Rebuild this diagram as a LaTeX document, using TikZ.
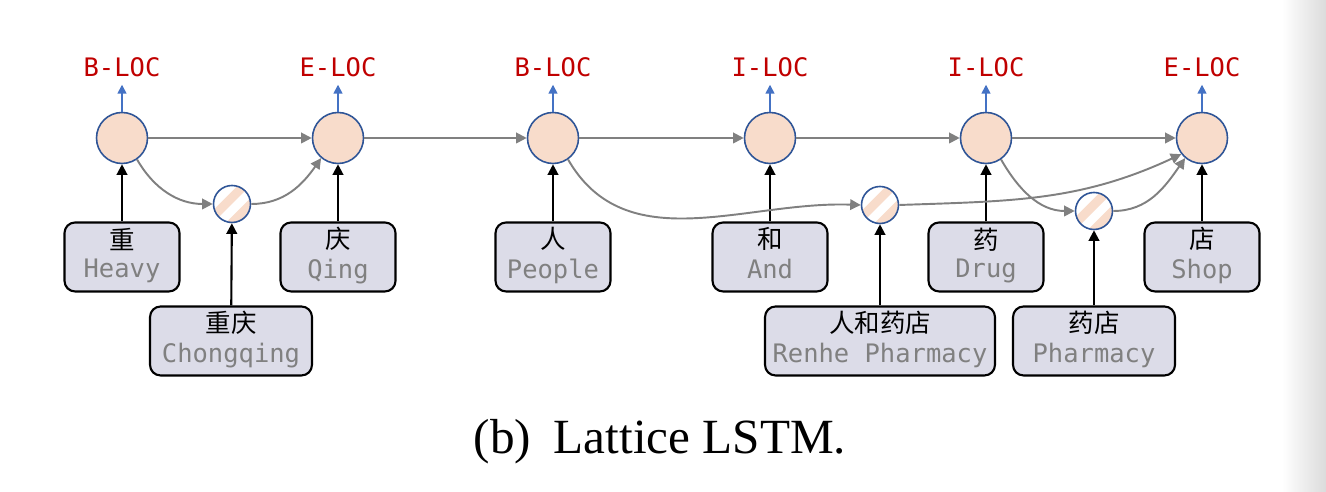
\documentclass[tikz,border=0pt]{standalone}
\usepackage{fontspec}
\setmainfont{Liberation Serif}
\newfontfamily\cjk{Noto Sans CJK SC}
\newfontfamily\mono{DejaVu Sans Mono}
\usetikzlibrary{arrows.meta}

\definecolor{cellfill}{HTML}{F8DCCB}
\definecolor{celledge}{HTML}{2F5597}
\definecolor{emitblue}{HTML}{4472C4}
\definecolor{tagred}{HTML}{C00000}
\definecolor{boxfill}{HTML}{DCDCE8}
\definecolor{txtgray}{HTML}{808080}
\definecolor{flowgray}{HTML}{808080}

\newcommand\wl[2]{{\cjk\strut #1}\\{\mono\color{txtgray}\strut #2}}

\tikzset{
	cell/.style={circle,draw=celledge,fill=cellfill,line width=0.9pt,minimum size=1.02cm,inner sep=0pt},
	wcell/.style={circle,draw=celledge,fill=white,line width=0.9pt,minimum size=0.74cm,inner sep=0pt,
		path picture={
			\foreach \p in {-0.27,0.09,0.45}
				\draw[cellfill,line width=0.18cm]
					([xshift={(-0.45-0.707*\p)*1cm},yshift={(-0.45+0.707*\p)*1cm}]path picture bounding box.center) --
					([xshift={(0.45-0.707*\p)*1cm},yshift={(0.45+0.707*\p)*1cm}]path picture bounding box.center);
		}},
	word/.style={draw,fill=boxfill,rounded corners=6pt,line width=1.2pt,minimum width=2.3cm,minimum height=1.38cm,
		align=center,inner sep=2pt,font=\fontsize{14.5}{15.5}\selectfont},
	tag/.style={text=tagred,font=\mono\fontsize{14.5}{17}\selectfont,anchor=base,inner sep=4pt},
	flow/.style={draw=flowgray,line width=1.1pt,-{Triangle[length=6pt,width=6pt]}},
	feed/.style={draw=black,line width=1.2pt,-{Triangle[length=6pt,width=6pt]}},
	emit/.style={draw=emitblue,line width=0.9pt,-{Triangle[length=5pt,width=5pt]}}
}

\begin{document}
\begin{tikzpicture}[x=0.02cm,y=0.02cm]
	\useasboundingbox (0,0) rectangle (1326,492);
	\shade[left color=white,right color=black!14] (1282,0) rectangle (1326,492);

	% characters, cells and tags
	\foreach \i/\x/\t/\zh/\en in {1/122/B-LOC/重/Heavy,2/338/E-LOC/庆/Qing,3/553/B-LOC/人/People,
			4/770/I-LOC/和/And,5/986/I-LOC/药/Drug,6/1202/E-LOC/店/Shop} {
		\node[cell] (c\i) at (\x,354) {};
		\node[tag] (t\i) at (\x,415) {\t};
		\node[word] (w\i) at (\x,235) {\wl{\zh}{\en}};
		\draw[emit] (c\i) -- (t\i);
		\draw[feed] (w\i) -- (c\i);
	}
	\foreach \i/\j in {1/2,2/3,3/4,4/5,5/6}
		\draw[flow] (c\i) -- (c\j);

	% lexicon words
	\node[wcell] (s1) at (232,288) {};
	\node[wcell] (s2) at (880,287) {};
	\node[wcell] (s3) at (1094,281) {};
	\node[word,minimum width=3.24cm] (v1) at (231,151) {\wl{重庆}{Chongqing}};
	\node[word,minimum width=4.6cm] (v2) at (880,151) {\wl{人和药店}{Renhe Pharmacy}};
	\node[word,minimum width=3.24cm] (v3) at (1094,151) {\wl{药店}{Pharmacy}};
	\draw[feed] (v1) -- (s1);
	\draw[feed] (v2) -- (s2);
	\draw[feed] (v3) -- (s3);

	\draw[flow] (c1.-55) to[out=-60,in=180] (s1.west);
	\draw[flow] (s1.east) to[out=0,in=-125] (c2.-130);
	\draw[flow] (c3.-55) to[out=-60,in=178] (s2.west);
	\draw[flow] (s2.east) to[out=2,in=-155] (c6.-142);
	\draw[flow] (c5.-55) to[out=-60,in=180] (s3.west);
	\draw[flow] (s3.east) to[out=0,in=-125] (c6.-130);

	\node (cap) at (660,50) {\fontsize{28}{32}\selectfont (b)\hspace{0.46em}Lattice LSTM.};
\end{tikzpicture}
\end{document}
